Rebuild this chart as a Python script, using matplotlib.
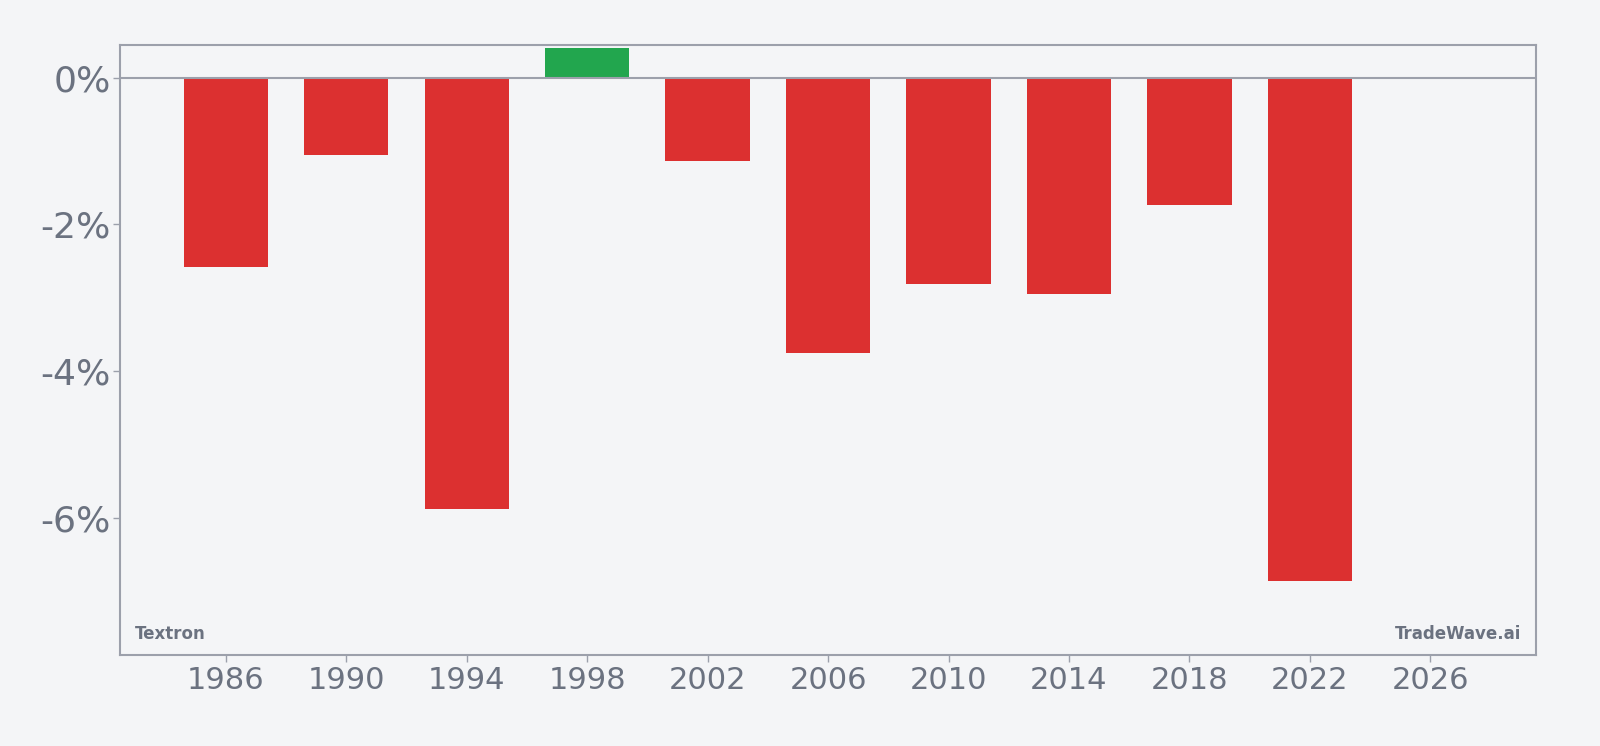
import matplotlib
matplotlib.use("Agg")
import matplotlib.pyplot as plt
from matplotlib.ticker import FuncFormatter

# yearly returns (%)
years = [1986, 1990, 1994, 1998, 2002, 2006, 2010, 2014, 2018, 2022]
returns = [-2.58, -1.05, -5.87, 0.40, -1.13, -3.75, -2.81, -2.94, -1.73, -6.85]
xticks = [1986, 1990, 1994, 1998, 2002, 2006, 2010, 2014, 2018, 2022, 2026]

bg = "#f4f5f7"
red = "#dc3030"
green = "#22a64e"
txt = "#6b7280"
edge = "#9ca0ab"

fig = plt.figure(figsize=(16, 7.46), dpi=100, facecolor=bg)
ax = fig.add_axes([0.0753, 0.122, 0.8845, 0.8178])
ax.set_facecolor(bg)

colors = [green if r > 0 else red for r in returns]
ax.bar(years, returns, width=2.8, color=colors, zorder=2)
ax.axhline(0, color=edge, lw=1.5, zorder=3)

ax.set_xlim(1982.5, 2029.5)
ax.set_ylim(-7.86, 0.444)
ax.set_xticks(xticks)
ax.set_yticks([0, -2, -4, -6])
ax.yaxis.set_major_formatter(FuncFormatter(lambda v, p: "%d%%" % v))

ax.tick_params(axis="x", labelsize=22, colors=txt, length=5, width=1, pad=3)
ax.tick_params(axis="y", labelsize=26, colors=txt, length=5, width=1, pad=2)
for lab in ax.get_xticklabels() + ax.get_yticklabels():
    lab.set_color(txt)
ax.tick_params(color=edge)
for s in ax.spines.values():
    s.set_color(edge)
    s.set_linewidth(1.5)

ax.text(0.01, 0.02, "Textron", transform=ax.transAxes, fontsize=12,
        fontweight="bold", color=txt, ha="left", va="bottom")
ax.text(0.99, 0.02, "TradeWave.ai", transform=ax.transAxes, fontsize=12,
        fontweight="bold", color=txt, ha="right", va="bottom")

fig.savefig("out.png", dpi=100, facecolor=bg)
